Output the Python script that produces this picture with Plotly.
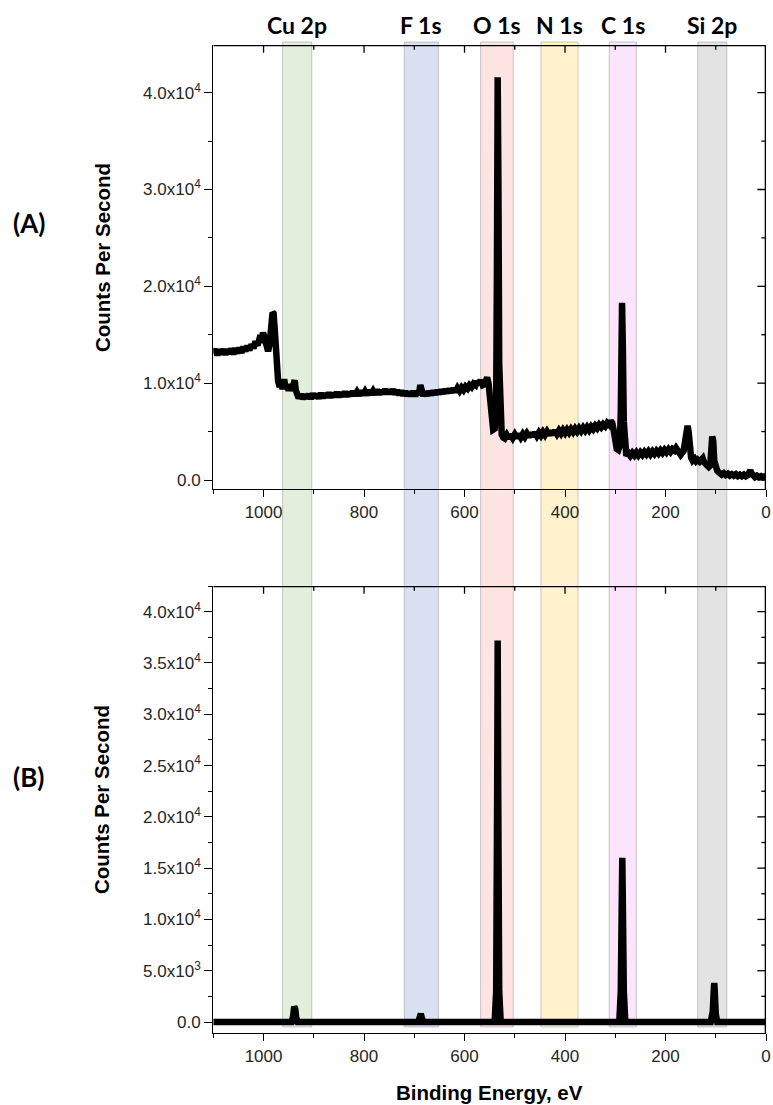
import plotly.graph_objects as go

# ---- spectrum (A): survey scan, binding energy (eV) vs counts per second ----
energy_a = [
    # 1100 - 1004
    1100, 1096, 1092, 1088, 1084, 1080, 1076, 1072, 1068, 1064, 1060, 1056, 1052,
    1048, 1044, 1040, 1036, 1032, 1028, 1024, 1020, 1016, 1012, 1008, 1004,
    # Cu LMM / Cu 2p area
    1001, 998, 995, 991, 988, 985, 982, 980, 977, 974, 971, 968, 965, 962, 959, 956,
    953, 950, 947, 944, 941, 938, 936, 933,
    # 930 - 694
    930, 926, 922, 918, 914, 910, 906, 902, 898, 894, 890, 886, 882, 878, 874, 870,
    866, 862, 858, 854, 850, 846, 842, 838, 834, 830, 826, 822, 818, 814, 810, 806,
    802, 798, 794, 790, 786, 782, 778, 774, 770, 766, 762, 758, 754, 750, 746, 742,
    738, 734, 730, 726, 722, 718, 714, 710, 706, 702, 698, 694,
    # F 1s and up to O 1s
    691, 688, 685, 682, 678, 674, 670, 666, 662, 658, 654, 650, 646, 642, 638, 634,
    630, 626, 622, 618, 614, 610, 606, 602, 598, 594, 590, 586, 582, 578,
    # O 1s
    575, 572, 568, 564, 560, 557, 555, 552, 549, 546, 543, 540, 537, 535.5, 534,
    532.5, 531, 529, 526, 523,
    # 520 - 312
    520, 516, 512, 508, 504, 500, 496, 492, 488, 484, 480, 476, 472, 468, 464, 460,
    456, 452, 448, 444, 440, 436, 432, 428, 424, 420, 416, 412, 408, 404, 400, 396,
    392, 388, 384, 380, 376, 372, 368, 364, 360, 356, 352, 348, 344, 340, 336, 332,
    328, 324, 320, 316, 312,
    # C 1s
    309, 306, 303, 300, 297, 294, 291, 289, 287.5, 286.5, 285, 283, 281,
    # 278 - 182
    278, 274, 270, 266, 262, 258, 254, 250, 246, 242, 238, 234, 230, 226, 222, 218,
    214, 210, 206, 202, 198, 194, 190, 186, 182,
    # Si 2s / Si 2p
    179, 176, 173, 170, 167, 164, 161, 158, 156, 154, 152, 149, 146, 142, 139, 136,
    132, 129, 126, 123, 120, 117, 114, 111, 109, 107, 105, 103, 100, 97, 94, 91,
    # low binding energy tail
    88, 84, 80, 76, 72, 68, 64, 60, 56, 52, 48, 44, 40, 36,
    33, 31, 29, 26, 22, 18, 14, 10, 6, 2, 0,
]
cps_a = [
    13100, 13500, 12900, 13450, 13000, 13500, 12950, 13500, 13050, 13550, 13000, 13600,
    13100, 13650, 13150, 13750, 13300, 13850, 13400, 14000, 13600, 14300, 13900, 14600,
    14500,
    15200, 14700, 13600, 13300, 14000, 16000, 17300, 17200, 15000, 11000, 10200, 9600,
    10100, 9400, 10400, 9400, 9900, 9200, 9900, 9200, 9700, 10300, 9300, 8800,
    8450, 8850, 8400, 8800, 8450, 8850, 8400, 8900, 8500, 8850, 8450, 8950, 8500, 8900,
    8550, 9000, 8550, 8950, 8600, 9050, 8600, 9000, 8650, 9100, 8650, 9050, 8700, 9150,
    8750, 9100, 8750, 9200, 8800, 9150, 8800, 9250, 8850, 9200, 8850, 9300, 8850, 9250,
    8900, 9350, 8900, 9300, 8900, 9350, 8850, 9250, 8800, 9200, 8750, 9150, 8700, 9100,
    8700, 9150, 8700, 9100,
    8800, 9800, 9000, 8700, 9100, 8750, 9150, 8800, 9200, 8850, 9250, 8900, 9300, 8950,
    9350, 9000, 9400, 9050, 9450, 9100, 9500, 9200, 9550, 9300, 9650, 9450, 9800, 9600,
    9950, 9800,
    10200, 9900, 10300, 9800, 9900, 10500, 10600, 9900, 8000, 6200, 5200, 5300, 8000,
    22000, 41600, 30000, 12000, 6000, 4700, 4400,
    4300, 4650, 4300, 4700, 4350, 4700, 4350, 4750, 4400, 4750, 4450, 4800, 4450, 4850,
    4500, 4900, 4550, 4900, 4600, 4950, 4650, 5000, 4650, 5050, 4700, 5100, 4750, 5100,
    4800, 5150, 4850, 5200, 4900, 5250, 4950, 5300, 5000, 5350, 5050, 5400, 5100, 5450,
    5150, 5500, 5250, 5600, 5350, 5700, 5450, 5750, 5550, 5900, 5700,
    6100, 5900, 5100, 3800, 3200, 3100, 3600, 7000, 14000, 18300, 14000, 6000, 3000,
    2500, 2800, 2500, 2800, 2550, 2850, 2550, 2850, 2600, 2900, 2650, 2950, 2650, 2950,
    2700, 3000, 2750, 3050, 2800, 3100, 2850, 3150, 2900, 3200, 3050,
    3300, 3050, 2700, 2600, 2800, 3000, 4000, 5400, 5600, 5000, 3200, 2300, 2000, 2200,
    1950, 2100, 1900, 2300, 2250, 1800, 1700, 1500, 1350, 1500, 3000, 4500, 4000, 2000,
    1200, 950, 800, 650,
    550, 700, 500, 650, 450, 600, 450, 600, 400, 550, 400, 550, 380, 500,
    900, 1000, 700, 450, 300, 450, 300, 400, 280, 380, 330,
]

# ---- spectrum (B) ----
energy_b = [1100, 944, 941, 939, 937, 935, 932, 692, 689, 687, 685, 682,
            540, 537, 535, 534, 533, 531, 528, 292, 289, 287, 286, 285, 283, 280,
            110, 106, 104, 103, 102, 100, 97, 0]
cps_b = [0, 0, 600, 1500, 1300, 400, 0, 0, 400, 800, 400, 0,
         0, 3000, 23000, 37200, 23000, 3000, 0, 0, 3000, 12000, 16000, 12000, 3000, 0,
         0, 1000, 3000, 3800, 3000, 800, 0, 0]

# ---- highlighted core-level regions ----
regions = ["Cu 2p", "F 1s", "O 1s", "N 1s", "C 1s", "Si 2p"]
region_lo = [904, 652, 503, 374, 258, 78]
region_hi = [962, 720, 568, 448, 312, 136]
region_colors = ["#E2EFDA", "#D9E1F2", "#FFE4E4", "#FFF2CC", "#FCE4FC", "#E3E3E3"]

# ---- ticks ----
x_ticks = [1000, 800, 600, 400, 200, 0]
x_ticktext = ["1000", "800", "600", "400", "200", "0"]
x_minor = [900, 700, 500, 300, 100]
ya_ticks = [0, 10000, 20000, 30000, 40000]
ya_ticktext = ["0.0", "1.0x10<sup>4</sup>", "2.0x10<sup>4</sup>",
               "3.0x10<sup>4</sup>", "4.0x10<sup>4</sup>"]
ya_minor = [5000, 15000, 25000, 35000]
yb_ticks = [0, 5000, 10000, 15000, 20000, 25000, 30000, 35000, 40000]
yb_ticktext = ["0.0", "5.0x10<sup>3</sup>", "1.0x10<sup>4</sup>", "1.5x10<sup>4</sup>",
               "2.0x10<sup>4</sup>", "2.5x10<sup>4</sup>", "3.0x10<sup>4</sup>",
               "3.5x10<sup>4</sup>", "4.0x10<sup>4</sup>"]
yb_minor = [2500, 7500, 12500, 17500, 22500, 27500, 32500, 37500]

W, H = 773, 1105
X_RANGE = [1100, 0]
YA_RANGE = [-930, 44925]
YB_RANGE = [-1072, 42505]

# panel frames in pixels
PX_L, PX_R = 213.3, 766
PX_AT, PX_AB = 45, 489
PX_BT, PX_BB = 586, 1033


def fx(p):
    return p / W


def fy(p):
    return 1 - p / H


x_dom = [fx(PX_L), fx(PX_R)]
ya_dom = [fy(PX_AB), fy(PX_AT)]
yb_dom = [fy(PX_BB), fy(PX_BT)]

TICK_FONT = dict(family="Liberation Sans, Arial", size=17, color="#262626")
LINE_W = 1.3

fig = go.Figure()
fig.add_trace(go.Scatter(x=energy_a, y=cps_a, mode="lines", xaxis="x", yaxis="y",
                         line=dict(color="black", width=6.5), showlegend=False))
fig.add_trace(go.Scatter(x=energy_b, y=cps_b, mode="lines", xaxis="x2", yaxis="y2",
                         line=dict(color="black", width=6.5), showlegend=False))


def frame_path(y_range, top_px, bot_px, y_major, y_minor):
    """Top and right edges of a panel with inward ticks, in axis units."""
    per_x = (PX_R - PX_L) / (X_RANGE[0] - X_RANGE[1])
    per_y = (bot_px - top_px) / (y_range[1] - y_range[0])
    half = LINE_W / 2
    top_y = y_range[1] - half / per_y
    right_x = X_RANGE[1] + half / per_x
    xs = [X_RANGE[0], right_x, right_x]
    ys = [top_y, top_y, y_range[0]]
    for vals, ln in [(x_ticks, 7), (x_minor, 4)]:
        for v in vals:
            xs += [None, v, v]
            ys += [None, top_y, top_y - ln / per_y]
    for vals, ln in [(y_major, 8), (y_minor, 4)]:
        for v in vals:
            xs += [None, right_x, right_x + ln / per_x]
            ys += [None, v, v]
    return xs, ys


for xa, ya, rng, t_px, b_px, ymaj, ymin in [
        ("x", "y", YA_RANGE, PX_AT, PX_AB, ya_ticks, ya_minor),
        ("x2", "y2", YB_RANGE, PX_BT, PX_BB, yb_ticks, yb_minor)]:
    fxs, fys = frame_path(rng, t_px, b_px, ymaj, ymin)
    fig.add_trace(go.Scatter(x=fxs, y=fys, mode="lines", xaxis=xa, yaxis=ya,
                             line=dict(color="black", width=LINE_W),
                             hoverinfo="skip", showlegend=False))


def x_axis(anchor):
    return dict(domain=x_dom, range=X_RANGE, anchor=anchor, tickmode="array",
                tickvals=x_ticks, ticktext=x_ticktext, ticks="outside", ticklen=7,
                tickwidth=LINE_W, tickcolor="black",
                minor=dict(tickmode="linear", tick0=0, dtick=100, ticks="outside",
                           ticklen=4, tickwidth=LINE_W, tickcolor="black"),
                showline=True, linecolor="black", linewidth=LINE_W,
                showgrid=False, zeroline=False, tickfont=TICK_FONT)


def y_axis(anchor, dom, rng, vals, text, minor_step):
    return dict(domain=dom, range=rng, anchor=anchor, tickmode="array", tickvals=vals,
                ticktext=text, ticks="outside", ticklen=8, tickwidth=LINE_W,
                tickcolor="black",
                minor=dict(tickmode="linear", tick0=0, dtick=minor_step, ticks="outside",
                           ticklen=4, tickwidth=LINE_W, tickcolor="black"),
                showline=True, linecolor="black", linewidth=LINE_W,
                showgrid=False, zeroline=False, tickfont=TICK_FONT)


shapes = []
annotations = []
for name, lo, hi, col in zip(regions, region_lo, region_hi, region_colors):
    shapes.append(dict(type="rect", xref="x", yref="paper", x0=lo, x1=hi,
                       y0=fy(1027), y1=fy(42), fillcolor=col, layer="below",
                       line=dict(color="rgba(140,140,140,0.45)", width=1)))
    annotations.append(dict(text=f"<b>{name}</b>", xref="x", yref="paper",
                            x=(lo + hi) / 2, y=fy(25), showarrow=False,
                            xanchor="center", yanchor="middle",
                            font=dict(family="Lato", size=23, color="black")))

TITLE_FONT = dict(family="Liberation Sans, Arial", size=20.5, color="black")
LABEL_FONT = dict(family="Lato", size=26, color="black")


def note(text, x, y, font, angle=0):
    return dict(text=text, xref="paper", yref="paper", x=fx(x), y=fy(y),
                xanchor="center", yanchor="middle", textangle=angle,
                showarrow=False, font=font)


annotations += [
    note("<b>Counts Per Second</b>", 102.5, 257.5, TITLE_FONT, -90),
    note("<b>Counts Per Second</b>", 101, 800, TITLE_FONT, -90),
    note("<b>Binding Energy, eV</b>", 489.5, 1092, TITLE_FONT),
    note("<b>(A)</b>", 28.5, 223, LABEL_FONT),
    note("<b>(B)</b>", 28.5, 777, LABEL_FONT),
]

fig.update_layout(
    width=W, height=H, margin=dict(l=0, r=0, t=0, b=0),
    template="none", plot_bgcolor="rgba(0,0,0,0)", showlegend=False,
    xaxis=x_axis("y"),
    xaxis2=x_axis("y2"),
    yaxis=y_axis("x", ya_dom, YA_RANGE, ya_ticks, ya_ticktext, 5000),
    yaxis2=y_axis("x2", yb_dom, YB_RANGE, yb_ticks, yb_ticktext, 2500),
    shapes=shapes, annotations=annotations,
)

fig.write_html("out.html")
